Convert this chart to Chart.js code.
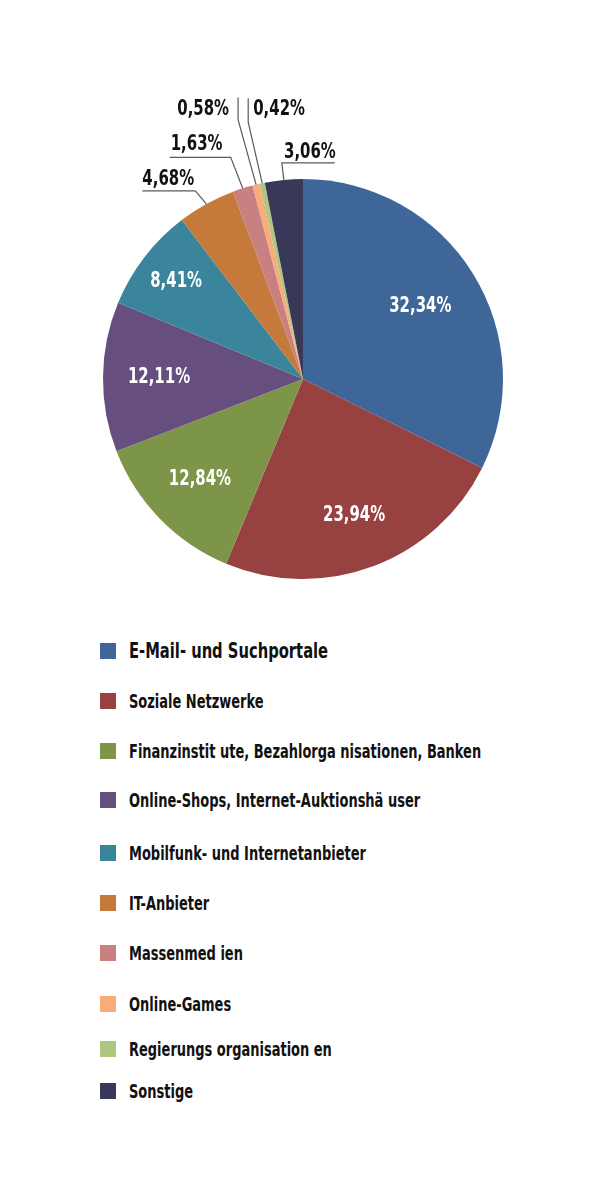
<!DOCTYPE html>
<html>
<head>
<meta charset="utf-8">
<script src="https://cdn.jsdelivr.net/npm/chart.js@4"></script>
<style>
  html, body { margin: 0; padding: 0; background: #ffffff; }
  #wrap { position: relative; width: 595px; height: 1196px; overflow: hidden; }
  #chartBox { position: absolute; left: 0; top: 0; width: 595px; height: 620px; }
  #legend { position: absolute; left: 0; top: 0; width: 595px; }
  .row { position: absolute; left: 100px; height: 22px; display: flex; align-items: center; white-space: nowrap; }
  .sw { width: 16px; height: 16px; flex: none; }
  .lbl { margin-left: 13px; display: inline-block; transform: scaleX(0.76); transform-origin: left center;
         font-family: 'Liberation Sans Narrow', 'DejaVu Sans Condensed', sans-serif; font-weight: bold; font-size: 19px; color: #111; }
  .lbl.big { font-size: 21px; transform: scaleX(0.78); }
</style>
</head>
<body>
<div id="wrap">
  <div id="chartBox"><canvas id="c"></canvas></div>
  <div id="legend"></div>
</div>
<script>
// ---- data ----
const categories = [
  'E-Mail- und Suchportale',
  'Soziale Netzwerke',
  'Finanzinstit ute, Bezahlorga nisationen, Banken',
  'Online-Shops, Internet-Auktionshä user',
  'Mobilfunk- und Internetanbieter',
  'IT-Anbieter',
  'Massenmed ien',
  'Online-Games',
  'Regierungs organisation en',
  'Sonstige'
];
const values = [32.34, 23.94, 12.84, 12.11, 8.41, 4.68, 1.63, 0.58, 0.42, 3.06];
const valueLabels = ['32,34%', '23,94%', '12,84%', '12,11%', '8,41%', '4,68%', '1,63%', '0,58%', '0,42%', '3,06%'];

// ---- styles ----
const colors = ['#3E6698', '#974241', '#7D9548', '#664F7F', '#3A859B', '#C5793A', '#C88080', '#F9AB7A', '#AFC681', '#3A3859'];
const FONT = "'Liberation Sans Narrow', 'DejaVu Sans Condensed', sans-serif";
const TEXT_SCALE_X = 0.79;
// inner label radius fraction (by slice index)
const innerLabelFrac = {0: 0.69, 1: 0.73, 2: 0.72, 3: 0.72, 4: 0.80};
// outer labels: elbow offset from rim point, end offset from elbow, text offset from end
const outerLabels = {
  5: { elbow: [-11, -13], end: [-53, 0], text: [0, -6], align: 'left' },
  6: { elbow: [-12, -31], end: [-61, 0], text: [1, -7], align: 'left' },
  7: { elbow: [-18, -65], end: [0, -22], text: [-9, 17], align: 'right' },
  8: { elbow: [-14, -61], end: [0, -24], text: [5, 17], align: 'left' },
  9: { elbow: [-2, -17], end: [53, 0], text: [1, -5], align: 'right' }
};
const legendRowCenters = [650.5, 701, 751, 800, 853, 903, 953, 1004, 1049, 1091];

function drawScaledText(ctx, txt, x, y) {
  ctx.save();
  ctx.translate(x, y);
  ctx.scale(TEXT_SCALE_X, 1);
  ctx.fillText(txt, 0, 0);
  ctx.restore();
}

const labelPlugin = {
  id: 'sliceLabels',
  afterDatasetsDraw(chart) {
    const ctx = chart.ctx;
    const meta = chart.getDatasetMeta(0);
    ctx.save();
    ctx.font = 'bold 21px ' + FONT;
    meta.data.forEach((arc, i) => {
      const p = arc.getProps(['x', 'y', 'startAngle', 'endAngle', 'outerRadius'], true);
      const mid = (p.startAngle + p.endAngle) / 2;
      if (innerLabelFrac[i] !== undefined) {
        const r = p.outerRadius * innerLabelFrac[i];
        ctx.fillStyle = '#ffffff';
        ctx.textAlign = 'center';
        ctx.textBaseline = 'middle';
        drawScaledText(ctx, valueLabels[i], p.x + Math.cos(mid) * r, p.y + Math.sin(mid) * r);
      } else if (outerLabels[i]) {
        const o = outerLabels[i];
        const ex = p.x + Math.cos(mid) * p.outerRadius;
        const ey = p.y + Math.sin(mid) * p.outerRadius;
        const bx = ex + o.elbow[0], by = ey + o.elbow[1];
        const cx = bx + o.end[0], cy = by + o.end[1];
        ctx.strokeStyle = '#5a5a5a';
        ctx.lineWidth = 1.2;
        ctx.beginPath();
        ctx.moveTo(ex, ey);
        ctx.lineTo(bx, by);
        ctx.lineTo(cx, cy);
        ctx.stroke();
        ctx.fillStyle = '#111111';
        ctx.textAlign = o.align;
        ctx.textBaseline = 'alphabetic';
        drawScaledText(ctx, valueLabels[i], cx + o.text[0], cy + o.text[1]);
      }
    });
    ctx.restore();
  }
};

const chart = new Chart(document.getElementById('c'), {
  type: 'pie',
  data: {
    labels: categories,
    datasets: [{
      data: values,
      backgroundColor: colors,
      borderWidth: 0
    }]
  },
  options: {
    responsive: true,
    maintainAspectRatio: false,
    animation: false,
    layout: { padding: { left: 103, right: 92, top: 179, bottom: 41 } },
    plugins: {
      legend: { display: false },
      tooltip: { enabled: false }
    }
  },
  plugins: [labelPlugin]
});

// HTML legend built from chart data
const legend = document.getElementById('legend');
chart.data.labels.forEach((lab, i) => {
  const row = document.createElement('div');
  row.className = 'row';
  row.style.top = (legendRowCenters[i] - 11) + 'px';
  const sw = document.createElement('div');
  sw.className = 'sw';
  sw.style.background = chart.data.datasets[0].backgroundColor[i];
  const t = document.createElement('span');
  t.className = 'lbl' + (i === 0 ? ' big' : '');
  t.textContent = lab;
  row.appendChild(sw);
  row.appendChild(t);
  legend.appendChild(row);
});
</script>
</body>
</html>
